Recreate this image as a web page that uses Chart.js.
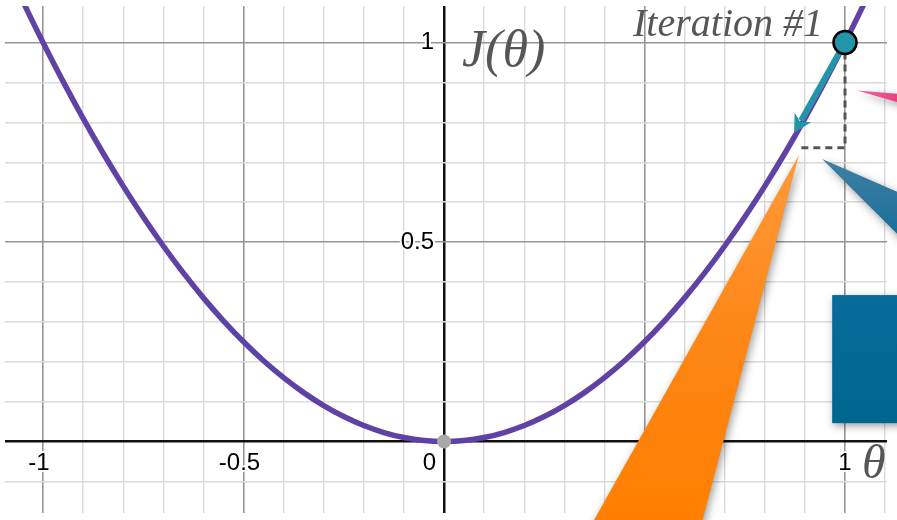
<!DOCTYPE html>
<html>
<head>
<meta charset="utf-8">
<script src="https://cdn.jsdelivr.net/npm/chart.js@4/dist/chart.umd.min.js"></script>
<style>
html,body{margin:0;padding:0;background:#fff;}
#wrap{width:897px;height:520px;position:relative;}
</style>
</head>
<body>
<div id="wrap"><canvas id="c" width="897" height="520"></canvas></div>
<script>
// ---- data ----
const thetaValues = [-1.1,-1.05,-1.0,-0.95,-0.9,-0.85,-0.8,-0.75,-0.7,-0.65,-0.6,-0.55,-0.5,-0.45,-0.4,-0.35,-0.3,-0.25,-0.2,-0.15,-0.1,-0.05,0,0.05,0.1,0.15,0.2,0.25,0.3,0.35,0.4,0.45,0.5,0.55,0.6,0.65,0.7,0.75,0.8,0.85,0.9,0.95,1.0,1.05,1.1];
const costValues = [1.21,1.1025,1.0,0.9025,0.81,0.7225,0.64,0.5625,0.49,0.4225,0.36,0.3025,0.25,0.2025,0.16,0.1225,0.09,0.0625,0.04,0.0225,0.01,0.0025,0,0.0025,0.01,0.0225,0.04,0.0625,0.09,0.1225,0.16,0.2025,0.25,0.3025,0.36,0.4225,0.49,0.5625,0.64,0.7225,0.81,0.9025,1.0,1.1025,1.21];
const minimumPoint = [0, 0];
const iterationPoint = [1, 1];
const arrowTip = [0.873, 0.773];
const stepCorner = [0.880, 0.736];
const xGridTicks = [-1.0,-0.9,-0.8,-0.7,-0.6,-0.5,-0.4,-0.3,-0.2,-0.1,0,0.1,0.2,0.3,0.4,0.5,0.6,0.7,0.8,0.9,1.0,1.1];
const yGridTicks = [-0.1,0,0.1,0.2,0.3,0.4,0.5,0.6,0.7,0.8,0.9,1.0];
const xTickLabels = [-1, -0.5, 0, 1];
const yTickLabels = [0.5, 1];
const iterationText = "Iteration #1";
const yAxisTitle = "J(θ)";
const xAxisTitle = "θ";

// ---- styling ----
const PURPLE = '#6042a6';
const TEAL = '#2296a8';

function gridColor(ctx){
  const v = ctx.tick ? ctx.tick.value : 0;
  if (Math.abs(v) < 1e-9) return '#111';
  if (Math.abs(v*2 - Math.round(v*2)) < 1e-6) return '#959595';
  return '#dadada';
}
function gridWidth(ctx){
  const v = ctx.tick ? ctx.tick.value : 0;
  if (Math.abs(v) < 1e-9) return 2.5;
  if (Math.abs(v*2 - Math.round(v*2)) < 1e-6) return 1.6;
  return 1.4;
}

const overlay = {
  id: 'overlay',
  afterDatasetDraw(chart, args){
    if (args.index !== 0) return;
    const ctx = chart.ctx, xs = chart.scales.x, ys = chart.scales.y;
    const px = v => xs.getPixelForValue(v), py = v => ys.getPixelForValue(v);
    // dashed step guides
    ctx.save();
    ctx.strokeStyle = '#555';
    ctx.lineWidth = 3;
    ctx.setLineDash([7,5]);
    ctx.beginPath();
    ctx.moveTo(px(iterationPoint[0]), py(iterationPoint[1]) + 10);
    ctx.lineTo(px(iterationPoint[0]), py(stepCorner[1]));
    ctx.lineTo(px(stepCorner[0]), py(stepCorner[1]));
    ctx.stroke();
    ctx.restore();
    // arrow
    const x0 = px(iterationPoint[0]), y0 = py(iterationPoint[1]);
    const x1 = px(arrowTip[0]), y1 = py(arrowTip[1]);
    const dx = x1 - x0, dy = y1 - y0, len = Math.hypot(dx, dy);
    const ux = dx/len, uy = dy/len, nx = -uy, ny = ux;
    const head = 18, half = 9.5;
    ctx.save();
    ctx.strokeStyle = TEAL; ctx.fillStyle = TEAL;
    ctx.lineWidth = 6;
    ctx.beginPath();
    ctx.moveTo(x0, y0);
    ctx.lineTo(x1 - ux*head*0.8, y1 - uy*head*0.8);
    ctx.stroke();
    ctx.beginPath();
    ctx.moveTo(x1, y1);
    ctx.lineTo(x1 - ux*head + nx*half, y1 - uy*head + ny*half);
    ctx.lineTo(x1 - ux*head*0.7, y1 - uy*head*0.7);
    ctx.lineTo(x1 - ux*head - nx*half, y1 - uy*head - ny*half);
    ctx.closePath();
    ctx.fill();
    ctx.restore();
  },
  afterDatasetsDraw(chart){
    const ctx = chart.ctx, xs = chart.scales.x, ys = chart.scales.y;
    const px = v => xs.getPixelForValue(v), py = v => ys.getPixelForValue(v);
    const X0 = px(0), Y0 = py(0);
    // tick labels
    ctx.save();
    ctx.font = '24px "Liberation Sans", Arial, sans-serif';
    ctx.textBaseline = 'middle';
    ctx.fillStyle = '#000';
    ctx.strokeStyle = 'rgba(255,255,255,0.9)';
    ctx.lineWidth = 4;
    ctx.lineJoin = 'round';
    xTickLabels.forEach(v => {
      const y = Y0 + 22;
      if (v === 0) {
        ctx.textAlign = 'right';
        ctx.strokeText('0', X0 - 8, y); ctx.fillText('0', X0 - 8, y);
        return;
      }
      const digits = String(Math.abs(v));
      const w = ctx.measureText(digits).width;
      const left = px(v) - w/2;
      const label = (v < 0 ? '-' : '') + digits;
      const mw = v < 0 ? ctx.measureText('-').width : 0;
      ctx.textAlign = 'left';
      ctx.strokeText(label, left - mw, y); ctx.fillText(label, left - mw, y);
    });
    yTickLabels.forEach(v => {
      ctx.textAlign = 'right';
      ctx.strokeText(String(v), X0 - 10, py(v)); ctx.fillText(String(v), X0 - 10, py(v));
    });
    ctx.restore();

    // math-style titles
    ctx.save();
    ctx.fillStyle = '#565656';
    ctx.textBaseline = 'alphabetic';
    ctx.font = 'italic 40px "Liberation Serif", "DejaVu Serif", serif';
    ctx.textAlign = 'right';
    ctx.fillText(iterationText, px(iterationPoint[0]) - 22, py(iterationPoint[1]) - 7);
    ctx.font = 'italic 52px "Liberation Serif", "DejaVu Serif", serif';
    ctx.textAlign = 'left';
    ctx.fillText(yAxisTitle, X0 + 18, py(1) + 23);
    ctx.font = 'italic 48px "Liberation Serif", "DejaVu Serif", serif';
    ctx.fillText(xAxisTitle, px(1) + 17, Y0 + 36);
    ctx.restore();

    // slide callout shapes drawn over the graph
    const shadow = () => {
      ctx.shadowColor = 'rgba(0,0,0,0.38)';
      ctx.shadowBlur = 8; ctx.shadowOffsetX = 2; ctx.shadowOffsetY = 3;
    };
    // pink pointer
    ctx.save(); shadow();
    let g = ctx.createLinearGradient(px(1.03), 0, px(1.13), 0);
    g.addColorStop(0, '#f06a9e'); g.addColorStop(1, '#ea3f82');
    ctx.fillStyle = g;
    ctx.beginPath();
    ctx.moveTo(px(1.030), py(0.880));
    ctx.lineTo(px(1.150), py(0.870));
    ctx.lineTo(px(1.150), py(0.845));
    ctx.closePath(); ctx.fill(); ctx.restore();
    // blue pointer
    ctx.save(); shadow();
    g = ctx.createLinearGradient(0, py(0.71), 0, py(0.5));
    g.addColorStop(0, '#4080a4'); g.addColorStop(1, '#176c97');
    ctx.fillStyle = g;
    ctx.beginPath();
    ctx.moveTo(px(0.943), py(0.708));
    ctx.lineTo(px(1.150), py(0.617));
    ctx.lineTo(px(1.150), py(0.500));
    ctx.closePath(); ctx.fill(); ctx.restore();
    // blue box
    ctx.save(); shadow();
    g = ctx.createLinearGradient(0, py(0.367), 0, py(0.046));
    g.addColorStop(0, '#086b9a'); g.addColorStop(1, '#00668f');
    ctx.fillStyle = g;
    ctx.fillRect(px(0.968), py(0.367), px(1.2) - px(0.968), py(0.046) - py(0.367));
    ctx.restore();
    // orange pointer
    ctx.save(); shadow();
    g = ctx.createLinearGradient(0, py(0.72), 0, py(-0.2));
    g.addColorStop(0, '#ff9a3a'); g.addColorStop(0.5, '#fd8616'); g.addColorStop(1, '#ff7f00');
    ctx.fillStyle = g;
    ctx.beginPath();
    ctx.moveTo(px(0.885), py(0.718));
    ctx.lineTo(px(0.640), py(-0.215));
    ctx.lineTo(px(0.364), py(-0.215));
    ctx.closePath(); ctx.fill(); ctx.restore();
  }
};

new Chart(document.getElementById('c'), {
  type: 'scatter',
  data: {
    datasets: [
      {
        label: 'J(θ)',
        data: thetaValues.map((t, i) => ({x: t, y: costValues[i]})),
        showLine: true,
        borderColor: PURPLE,
        borderWidth: 5.5,
        pointRadius: 0,
        cubicInterpolationMode: 'monotone',
        order: 3
      },
      {
        label: 'minimum',
        data: [{x: minimumPoint[0], y: minimumPoint[1]}],
        pointRadius: 7,
        pointBackgroundColor: '#a9a9a9',
        pointBorderWidth: 0,
        order: 2
      },
      {
        label: 'iteration',
        data: [{x: iterationPoint[0], y: iterationPoint[1]}],
        pointRadius: 11.5,
        pointBackgroundColor: TEAL,
        pointBorderColor: '#000',
        pointBorderWidth: 2.5,
        order: 1
      }
    ]
  },
  options: {
    responsive: false,
    animation: false,
    devicePixelRatio: 1,
    layout: {autoPadding: false, padding: {left: 5, top: 6, right: 10, bottom: 7}},
    plugins: {legend: {display: false}, tooltip: {enabled: false}},
    scales: {
      x: {
        type: 'linear', min: -1.0948, max: 1.1047,
        afterBuildTicks: s => { s.ticks = xGridTicks.map(v => ({value: v})); },
        ticks: {display: false},
        border: {display: false},
        grid: {color: gridColor, lineWidth: gridWidth, drawTicks: false}
      },
      y: {
        type: 'linear', min: -0.1792, max: 1.0915,
        afterBuildTicks: s => { s.ticks = yGridTicks.map(v => ({value: v})); },
        ticks: {display: false},
        border: {display: false},
        grid: {color: gridColor, lineWidth: gridWidth, drawTicks: false}
      }
    }
  },
  plugins: [overlay]
});
</script>
</body>
</html>
